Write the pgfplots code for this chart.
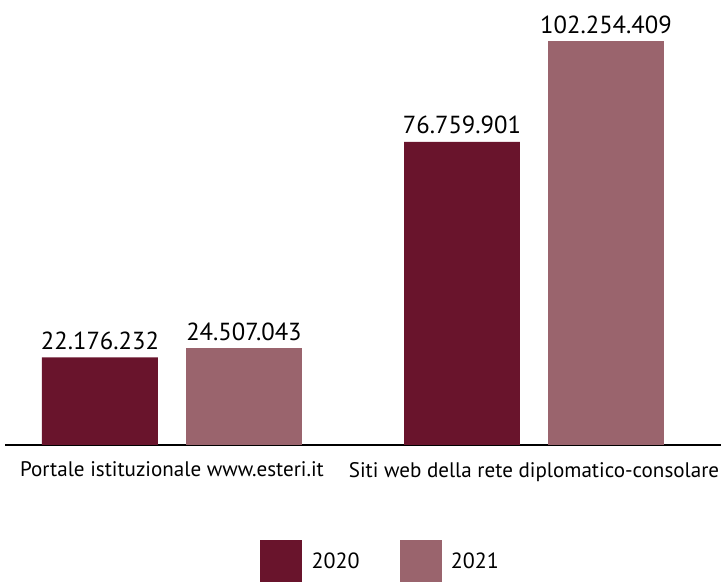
\documentclass[border=0pt]{standalone}
\usepackage{pgfplots}
\pgfplotsset{compat=1.18}
\usepackage{fontspec}
\setmainfont{PT Sans}
\definecolor{dark}{HTML}{69142C}
\definecolor{light}{HTML}{9A646D}
\begin{document}
\begin{tikzpicture}
\begin{axis}[name=ax,
  scale only axis, width=537pt, height=311.25pt,
  xmin=-0.4613, xmax=1.5166, ymin=0, ymax=105.06,
  enlargelimits=false,
  ybar, bar width=0.3204,
  axis y line=none, axis x line*=bottom,
  x axis line style={-, line width=2.2pt},
  xtick={0,1}, xtick style={draw=none},
  xticklabels={Portale istituzionale www.esteri.it, Siti web della rete diplomatico-consolare},
  xticklabel style={font=\fontsize{15.8}{19}\selectfont, yshift=-5pt},
  point meta=explicit symbolic,
  nodes near coords,
  every node near coord/.append style={font=\fontsize{18.5}{22}\selectfont, anchor=south, inner sep=2pt, yshift=3.5pt},
  area legend,
  legend image code/.code={\fill[#1] (0pt,-15.75pt) rectangle (31.5pt,15.75pt); \path (36.5pt,0pt);},
  legend style={draw=none, at={(0.3561,-0.2289)}, anchor=north west, legend columns=2,
    font=\fontsize{16.5}{20}\selectfont, inner sep=0pt,
    /tikz/every even column/.append style={column sep=28pt}},
]
\addplot[fill=dark, draw=none, bar shift=-0.1989] coordinates {
  (0,22.176232) [22.176.232]
  (1,76.759901) [76.759.901]
};
\addplot[fill=light, draw=none, bar shift=0.1989] coordinates {
  (0,24.507043) [24.507.043]
  (1,102.254409) [102.254.409]
};
\legend{2020,2021}
\end{axis}
\pgfresetboundingbox
\path ([xshift=-3.75pt,yshift=-104.25pt]ax.south west) rectangle ([yshift=22.5pt]ax.north east);
\end{tikzpicture}
\end{document}
